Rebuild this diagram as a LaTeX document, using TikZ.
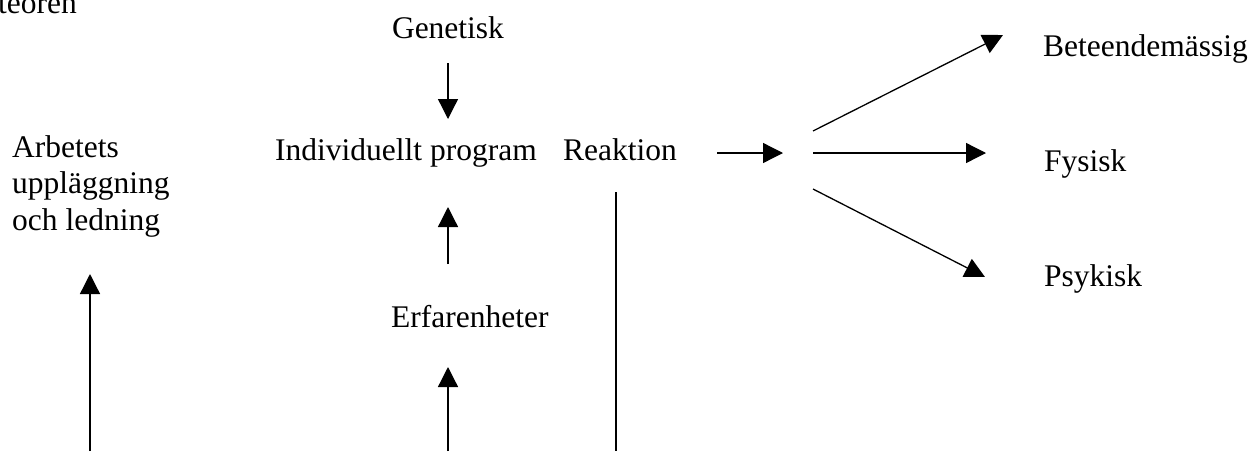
\documentclass[tikz,border=0pt]{standalone}
\usepackage{fontspec}
\setmainfont{Liberation Serif}
\usepackage{tikz}
\usetikzlibrary{arrows.meta, calc}

\begin{document}
\begin{tikzpicture}[x=1pt, y=-1pt,
    txt/.style={inner sep=0pt, font=\fontsize{31.5}{36.5}\selectfont},
    pil/.style={line width=1.3pt, -{Triangle[length=20pt, width=20pt]}},
    linje/.style={line width=1.3pt}]
    \useasboundingbox (0,0) rectangle (1254,451);
    % Texts
    \node[txt, anchor=base west] (teori) at (-2,13) {teoren};
    \node[txt, anchor=base] (gen) at (448,38) {Genetisk};
    \node[txt, anchor=base west] (prog) at (275,160) {Individuellt program};
    \node[txt, anchor=base west] (reak) at (563,160) {Reaktion};
    \node[txt, anchor=base west, align=left] (arb) at (12,230) {Arbetets\\uppläggning\\och ledning};
    \node[txt, anchor=base west] (erf) at (391,327) {Erfarenheter};
    \node[txt, anchor=base west] (bet) at (1043,56) {Beteendemässig};
    \node[txt, anchor=base west] (fys) at (1044,171) {Fysisk};
    \node[txt, anchor=base west] (psy) at (1044,286) {Psykisk};
    % Arrow ends
    \coordinate (gen-ut) at (448,63);
    \coordinate (prog-in) at (448,119);
    \coordinate (prog-ut) at (448,207);
    \coordinate (erf-in) at (448,264);
    \coordinate (erf-ut) at (448,367);
    \coordinate (erf-bas) at (448,451);
    \coordinate (arb-ut) at (90,274);
    \coordinate (arb-bas) at (90,451);
    \coordinate (reak-topp) at (616,192);
    \coordinate (reak-bas) at (616,451);
    \coordinate (reak-ut) at (717,153);
    \coordinate (nav-in) at (783,153);
    \coordinate (nav-upp) at (813,131);
    \coordinate (nav-mitt) at (813,153);
    \coordinate (nav-ner) at (813,189);
    \coordinate (bet-in) at (1003,35);
    \coordinate (fys-in) at (986,153);
    \coordinate (psy-in) at (985,277);
    % Middle column
    \draw[pil] (gen-ut) -- (prog-in);
    \draw[pil] (erf-in) -- (prog-ut);
    \draw[pil] (erf-bas) -- (erf-ut);
    % Left and reaction lines
    \draw[pil] (arb-bas) -- (arb-ut);
    \draw[linje] (reak-topp) -- (reak-bas);
    % Reaction outputs
    \draw[pil] (reak-ut) -- (nav-in);
    \draw[pil] (nav-upp) -- (bet-in);
    \draw[pil] (nav-mitt) -- (fys-in);
    \draw[pil] (nav-ner) -- (psy-in);
\end{tikzpicture}
\end{document}
